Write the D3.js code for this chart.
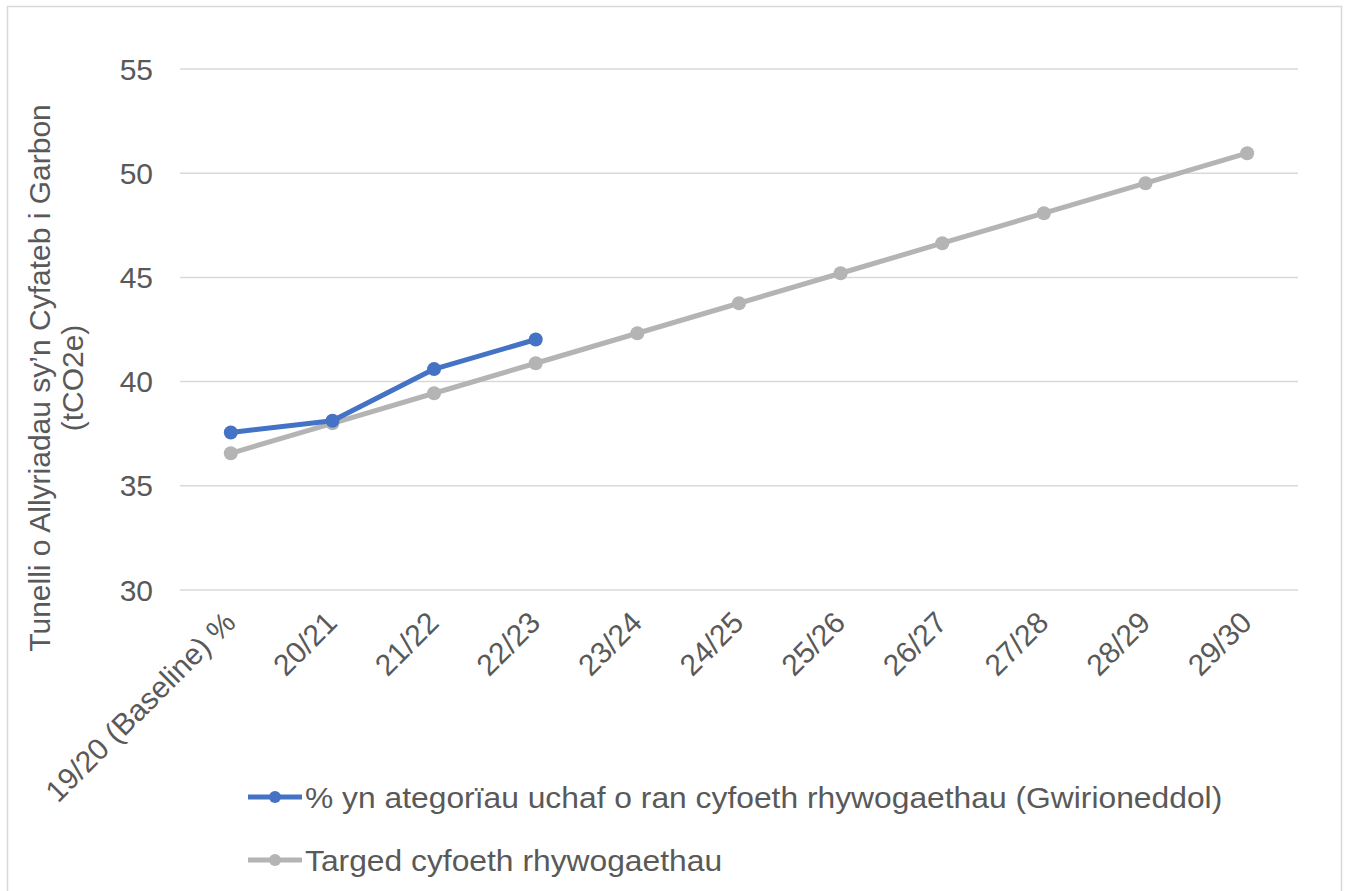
<!DOCTYPE html>
<html>
<head>
<meta charset="utf-8">
<script src="https://cdn.jsdelivr.net/npm/d3@7"></script>
<style>
  body { margin: 0; background: #fff; }
  svg { display: block; font-family: "Liberation Sans", Arial, sans-serif; }
</style>
</head>
<body>
<svg id="chart" width="1346" height="891"></svg>
<script>
// Data
const categories = ["19/20 (Baseline) %", "20/21", "21/22", "22/23", "23/24", "24/25",
  "25/26", "26/27", "27/28", "28/29", "29/30"];
const actualValues = [37.56, 38.12, 40.6, 42.02];
const targetValues = [36.56, 38.0, 39.44, 40.88, 42.32, 43.76, 45.2, 46.64, 48.08, 49.52, 50.96];
const yTicks = [30, 35, 40, 45, 50, 55];
const seriesNames = [
  "% yn ategorïau uchaf o ran cyfoeth rhywogaethau (Gwirioneddol)",
  "Targed cyfoeth rhywogaethau"
];
const seriesColors = ["#4472C4", "#B4B4B4"];

const svg = d3.select("#chart");
const textColor = "#595959";
const fontSize = "30px";

// Chart border
svg.append("rect")
  .attr("x", 7.5).attr("y", 6.5)
  .attr("width", 1334).attr("height", 900)
  .attr("fill", "none").attr("stroke", "#D9D9D9").attr("stroke-width", 1.5);

const plot = { left: 180, right: 1298, top: 69, bottom: 590 };

const x = d3.scalePoint()
  .domain(categories)
  .range([plot.left, plot.right])
  .padding(0.5);

const y = d3.scaleLinear()
  .domain([30, 55])
  .range([plot.bottom, plot.top]);

// Gridlines
svg.append("g")
  .selectAll("line")
  .data(yTicks)
  .join("line")
  .attr("x1", plot.left).attr("x2", plot.right)
  .attr("y1", d => y(d)).attr("y2", d => y(d))
  .attr("stroke", "#D9D9D9").attr("stroke-width", 1.5);

// Y axis labels
svg.append("g")
  .selectAll("text")
  .data(yTicks)
  .join("text")
  .attr("x", 153).attr("y", d => y(d))
  .attr("dy", "0.35em")
  .attr("text-anchor", "end")
  .attr("fill", textColor)
  .style("font-size", fontSize)
  .text(d => d);

// Y axis title
const yTitle = svg.append("text")
  .attr("transform", "translate(50,378) rotate(-90)")
  .attr("text-anchor", "middle")
  .attr("fill", textColor)
  .style("font-size", fontSize);
yTitle.append("tspan").attr("x", 0).attr("dy", 0).text("Tunelli o Allyriadau sy\u2019n Cyfateb i Garbon");
yTitle.append("tspan").attr("x", 0).attr("dy", "1.1em").text("(tCO2e)");

// X axis labels (rotated)
svg.append("g")
  .selectAll("text")
  .data(categories)
  .join("text")
  .attr("transform", d => "translate(" + (x(d) - 1) + ",617) rotate(-45)")
  .attr("text-anchor", "end")
  .attr("dy", "0.35em")
  .attr("fill", textColor)
  .style("font-size", fontSize)
  .text(d => d);

// Lines
const line = d3.line()
  .x((d, i) => x(categories[i]))
  .y(d => y(d));

const series = [actualValues, targetValues];
// draw target first so actual sits on top
[1, 0].forEach(s => {
  const g = svg.append("g");
  g.append("path")
    .datum(series[s])
    .attr("d", line)
    .attr("fill", "none")
    .attr("stroke", seriesColors[s])
    .attr("stroke-width", 5)
    .attr("stroke-linejoin", "round");
  g.selectAll("circle")
    .data(series[s])
    .join("circle")
    .attr("cx", (d, i) => x(categories[i]))
    .attr("cy", d => y(d))
    .attr("r", 7)
    .attr("fill", seriesColors[s]);
});

// Legend
const legend = svg.append("g");
seriesNames.forEach((name, i) => {
  const ly = 797 + i * 63;
  legend.append("line")
    .attr("x1", 248).attr("x2", 302)
    .attr("y1", ly).attr("y2", ly)
    .attr("stroke", seriesColors[i]).attr("stroke-width", 5);
  legend.append("circle")
    .attr("cx", 275).attr("cy", ly).attr("r", 6)
    .attr("fill", seriesColors[i]);
  legend.append("text")
    .attr("transform", "translate(305," + ly + ") scale(1.06,1)")
    .attr("dy", "0.35em")
    .attr("fill", textColor)
    .style("font-size", fontSize)
    .text(name);
});
</script>
</body>
</html>
